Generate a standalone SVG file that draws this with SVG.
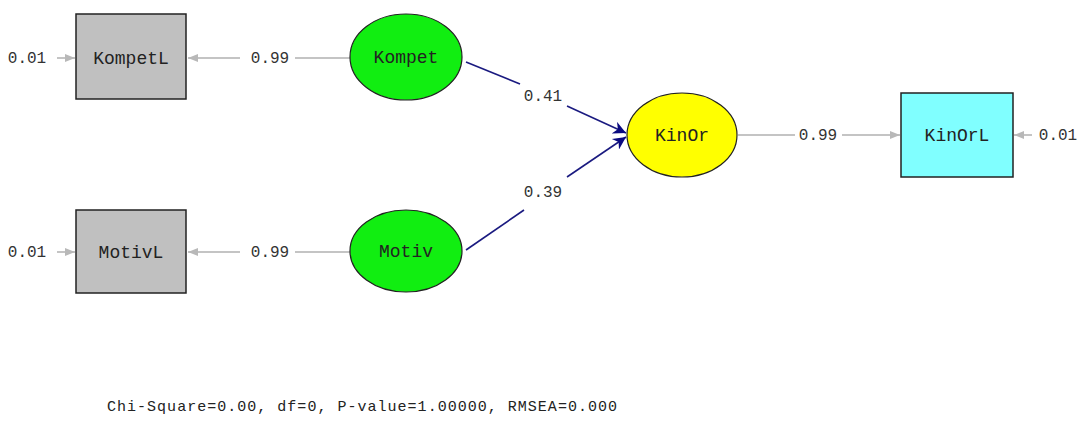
<svg xmlns="http://www.w3.org/2000/svg" width="1086" height="427" viewBox="0 0 1086 427">
<style>
.box{stroke:#222;stroke-width:1.5}
.ell{stroke:#222;stroke-width:1.2}
.lbl{font-family:"Liberation Mono","DejaVu Sans Mono",monospace;font-size:18px;fill:#222;text-anchor:middle;dominant-baseline:central}
.num{font-family:"Liberation Mono","DejaVu Sans Mono",monospace;font-size:16px;fill:#333;text-anchor:middle;dominant-baseline:central}
.g{stroke:#c4c4c4;stroke-width:2;fill:none}
.b{stroke:#1a1a80;stroke-width:1.6;fill:none}
</style>
<defs>
<marker id="ga" viewBox="0 0 10 10" refX="10" refY="5" markerWidth="5" markerHeight="5" orient="auto" markerUnits="strokeWidth">
<path d="M0,1 L10,5 L0,9 Z" fill="#b8b8b8"/>
</marker>
<marker id="ba" viewBox="0 0 10 10" refX="10" refY="5" markerWidth="9" markerHeight="8" orient="auto" markerUnits="strokeWidth">
<path d="M0,0 L10,5 L0,10 L3,5 Z" fill="#0a0a80"/>
</marker>
</defs>
<rect width="1086" height="427" fill="#fff"/>
<g id="connectors">
<line class="g" x1="57" y1="58" x2="75" y2="58" marker-end="url(#ga)"/>
<line class="g" x1="57" y1="252" x2="75" y2="252" marker-end="url(#ga)"/>
<line class="g" x1="240" y1="58" x2="188" y2="58" marker-end="url(#ga)"/>
<line class="g" x1="295" y1="58" x2="350" y2="58"/>
<line class="g" x1="240" y1="252" x2="188" y2="252" marker-end="url(#ga)"/>
<line class="g" x1="295" y1="252" x2="350" y2="252"/>
<line class="b" x1="466" y1="62" x2="520" y2="84"/>
<line class="b" x1="567" y1="106" x2="626" y2="133" marker-end="url(#ba)"/>
<line class="b" x1="466" y1="250" x2="524" y2="210"/>
<line class="b" x1="567" y1="177" x2="626" y2="137" marker-end="url(#ba)"/>
<line class="g" x1="738" y1="135" x2="795" y2="135"/>
<line class="g" x1="842" y1="135" x2="900" y2="135" marker-end="url(#ga)"/>
<line class="g" x1="1032" y1="135" x2="1014" y2="135" marker-end="url(#ga)"/>
<text class="num" x="27" y="59">0.01</text>
<text class="num" x="27" y="253">0.01</text>
<text class="num" x="270" y="59">0.99</text>
<text class="num" x="270" y="253">0.99</text>
<text class="num" x="543" y="97">0.41</text>
<text class="num" x="543" y="193">0.39</text>
<text class="num" x="818" y="136">0.99</text>
<text class="num" x="1058" y="136">0.01</text>
</g>
<g id="KompetL"><rect class="box" x="76" y="14" width="110" height="85" fill="#c0c0c0"/><text class="lbl" x="131" y="59">KompetL</text></g>
<g id="MotivL"><rect class="box" x="76" y="210" width="110" height="83" fill="#c0c0c0"/><text class="lbl" x="131" y="253">MotivL</text></g>
<g id="Kompet"><ellipse class="ell" cx="406" cy="57" rx="56" ry="43" fill="#11ee11"/><text class="lbl" x="406" y="58">Kompet</text></g>
<g id="Motiv"><ellipse class="ell" cx="406" cy="251" rx="56" ry="41" fill="#11ee11"/><text class="lbl" x="406" y="252">Motiv</text></g>
<g id="KinOr"><ellipse class="ell" cx="682" cy="135" rx="55" ry="42" fill="#ffff00"/><text class="lbl" x="682" y="136">KinOr</text></g>
<g id="KinOrL"><rect class="box" x="901" y="93" width="112" height="84" fill="#80ffff"/><text class="lbl" x="957" y="136">KinOrL</text></g>
<text x="107" y="407" font-family="'Liberation Mono','DejaVu Sans Mono',monospace" font-size="15" fill="#222" dominant-baseline="central" textLength="510" lengthAdjust="spacing">Chi-Square=0.00, df=0, P-value=1.00000, RMSEA=0.000</text>
</svg>
